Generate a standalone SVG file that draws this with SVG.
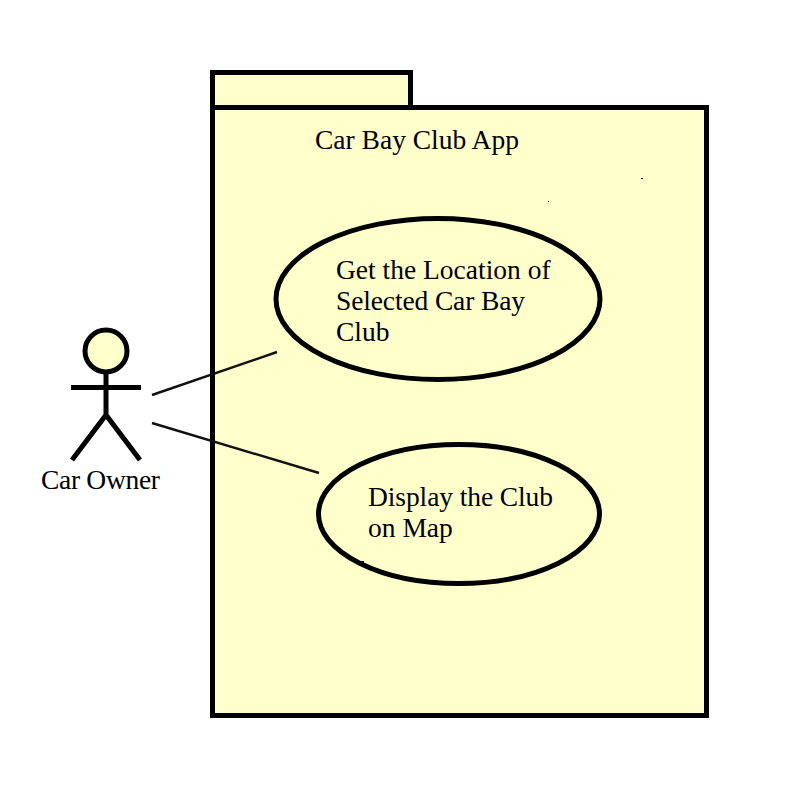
<svg xmlns="http://www.w3.org/2000/svg" width="795" height="810" viewBox="0 0 795 810">
<style>
.s{fill:#ffffcc;stroke:#000;stroke-width:5}
.a{fill:none;stroke:#000;stroke-width:5}
.c{fill:none;stroke:#111;stroke-width:2.4}
text{font-family:"Liberation Serif","Times New Roman",serif;font-size:27.5px;fill:#000}
</style>
<rect width="795" height="810" fill="#fff"/>
<g id="package">
<rect class="s" x="212.500" y="72.500" width="198" height="35"/>
<rect class="s" x="212.500" y="107.500" width="494" height="608"/>
<text x="315" y="148.500">Car Bay Club App</text>
<rect x="641" y="178" width="2" height="1"/>
<rect x="548" y="201" width="1" height="1"/>
<rect x="574" y="492" width="1" height="2" fill="#bfe8e0"/>
</g>
<g id="usecase-location">
<ellipse class="s" cx="438" cy="299" rx="162" ry="80.500"/>
<text x="336" y="278.500">Get the Location of</text>
<text x="336" y="309.500" textLength="189">Selected Car Bay</text>
<text x="336" y="340.500">Club</text>
<rect x="550" y="353.500" width="5" height="3"/>
</g>
<g id="usecase-display">
<ellipse class="s" cx="459" cy="514" rx="140.500" ry="69.500"/>
<text x="368" y="505.500" textLength="185">Display the Club</text>
<text x="368" y="536.500">on Map</text>
<rect x="359" y="561" width="5" height="3"/>
</g>
<g id="actor">
<circle class="s" cx="106" cy="351" r="21"/>
<path class="a" d="M106 372V415M71 387.500H141M72 460L106 415L140 460"/>
<text x="41" y="488.500" textLength="119">Car Owner</text>
</g>
<g id="connectors">
<line class="c" x1="152" y1="395" x2="277" y2="352"/>
<line class="c" x1="152" y1="423" x2="319" y2="473"/>
</g>
</svg>
